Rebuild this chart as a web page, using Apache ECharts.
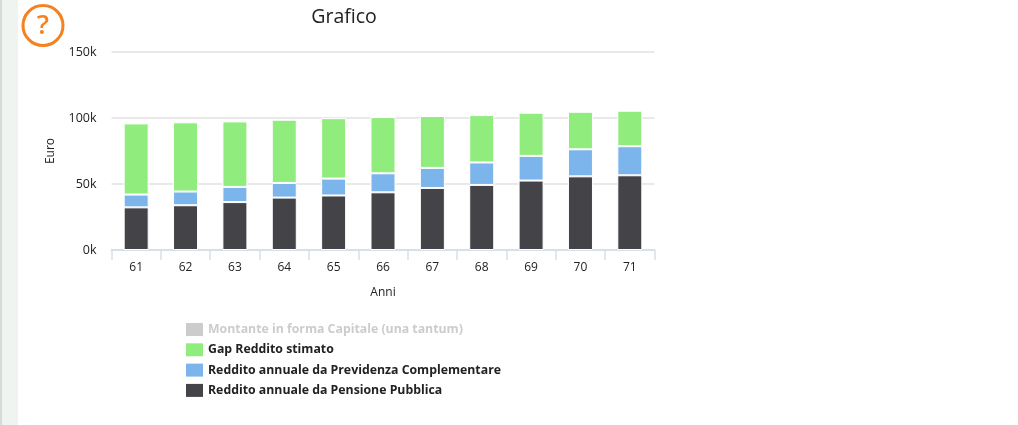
<!DOCTYPE html>
<html><head><meta charset="utf-8">
<style>html,body{margin:0;padding:0;background:#fff}#c{width:1018px;height:425px}</style>
<script src="https://cdn.jsdelivr.net/npm/echarts@6/dist/echarts.min.js"></script>
</head><body><div id="c"></div>
<script>
const categories = ['61','62','63','64','65','66','67','68','69','70','71'];
const pensione = [32.3, 33.9, 36.3, 39.7, 41.3, 43.7, 47, 49.3, 52.6, 55.8, 56.6];
const previdenza = [9.7, 10.4, 11.5, 11.1, 12.8, 14.4, 15.2, 17, 18.7, 20.5, 22];
const gap = [53.9, 52.4, 49.6, 47.9, 45.8, 42.6, 39.3, 35.9, 32.7, 28.4, 26.9];
const montante = [0, 0, 0, 0, 0, 0, 0, 0, 0, 0, 0];
const names = ['Montante in forma Capitale (una tantum)', 'Gap Reddito stimato', 'Reddito annuale da Previdenza Complementare', 'Reddito annuale da Pensione Pubblica'];
const F = '"Open Sans", sans-serif';
const toK = a => a.map(v => v * 1000);
const barSeries = (name, data, color) => ({
  name, type: 'bar', stack: 'tot', data: toK(data), barWidth: 25,
  itemStyle: {color, borderColor: '#fff', borderWidth: 1}
});
const chart = echarts.init(document.getElementById('c'), null, {renderer: 'canvas'});
chart.setOption({
  animation: false,
  title: {text: 'Grafico', left: 339, top: 2, textAlign: 'center',
    textStyle: {fontFamily: F, fontSize: 19.5, fontWeight: 'normal', color: '#222'}},
  grid: {left: 111.5, right: 363.5, top: 52, bottom: 175},
  legend: {
    orient: 'vertical', left: 181, top: 318, itemWidth: 17, itemHeight: 13, itemGap: 7.3,
    data: names, icon: 'rect', inactiveColor: '#ccc', inactiveBorderWidth: 0,
    selected: {[names[0]]: false},
    itemStyle: {borderWidth: 0},
    textStyle: {fontFamily: F, fontSize: 12.3, fontWeight: 'bold', color: '#222'}
  },
  xAxis: {
    type: 'category', data: categories, name: 'Anni', nameLocation: 'middle', nameGap: 37,
    nameTextStyle: {fontFamily: F, fontSize: 12, color: '#222'},
    axisLine: {lineStyle: {color: '#d8dfea', width: 2}},
    axisTick: {show: true, alignWithLabel: false, length: 10, lineStyle: {color: '#d8dfea', width: 1.5}},
    axisLabel: {fontFamily: F, fontSize: 12, color: '#222', margin: 12}
  },
  yAxis: {
    type: 'value', min: 0, max: 150000, interval: 50000, name: 'Euro', nameLocation: 'middle', nameGap: 55,
    nameTextStyle: {fontFamily: F, fontSize: 12, color: '#222'},
    axisLine: {show: false}, axisTick: {show: false},
    splitLine: {lineStyle: {color: '#e9e9e9', width: 2}},
    axisLabel: {fontFamily: F, fontSize: 12.5, color: '#222', margin: 15, formatter: v => (v / 1000) + 'k'}
  },
  series: [
    barSeries(names[3], pensione, '#434348'),
    barSeries(names[2], previdenza, '#7cb5ec'),
    barSeries(names[1], gap, '#90ed7d'),
    barSeries(names[0], montante, '#c8c8c8')
  ],
  graphic: [
    {type: 'rect', shape: {x: 0, y: 0, width: 18, height: 425}, style: {fill: '#f0f4f1'}, silent: true},
    {type: 'rect', shape: {x: 0, y: 0, width: 2, height: 425}, style: {fill: '#d9d9d9'}, silent: true},
    {type: 'circle', shape: {cx: 43, cy: 25.5, r: 20}, style: {fill: '#fff', stroke: '#f58220', lineWidth: 3}, silent: true},
    {type: 'text', x: 43, y: 26, style: {text: '?', fill: '#f58220', font: '600 27px "Open Sans", sans-serif', align: 'center', verticalAlign: 'middle'}, silent: true}
  ]
});
</script></body></html>
